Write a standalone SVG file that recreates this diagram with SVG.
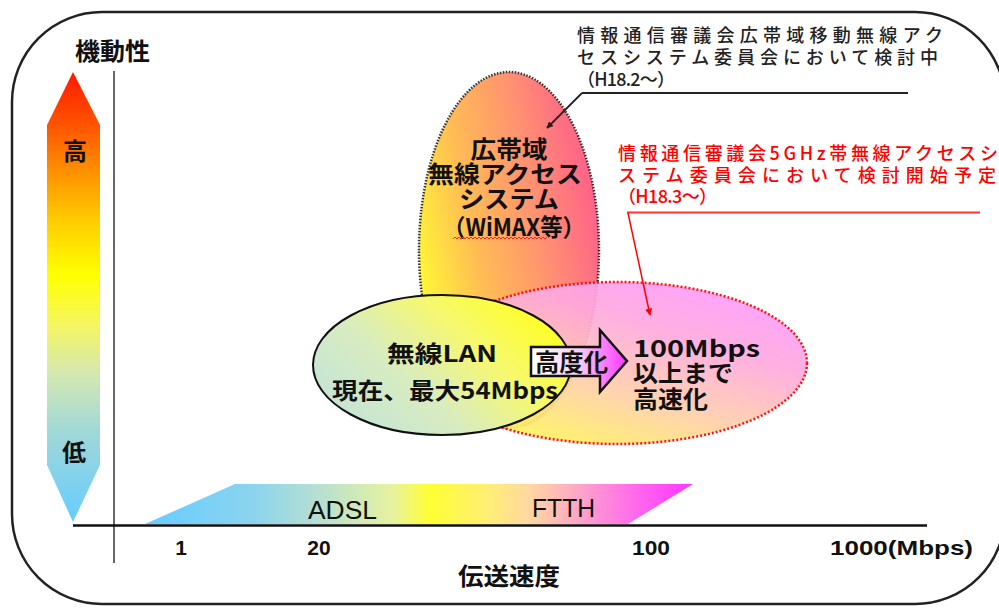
<svg xmlns="http://www.w3.org/2000/svg" width="999" height="608" viewBox="0 0 999 608">
<style>
.jp{font-family:"Noto Sans CJK JP","Noto Sans",sans-serif;font-weight:bold;fill:#111}
.lat{font-family:"Liberation Sans","Noto Sans CJK JP",sans-serif;fill:#111}
.ann{font-family:"Noto Sans CJK JP",sans-serif;font-size:18px;font-weight:500}
</style>
<defs>
<linearGradient id="gMob" x1="0" y1="72" x2="0" y2="522" gradientUnits="userSpaceOnUse">
<stop offset="0" stop-color="#ff1a00"/>
<stop offset="0.12" stop-color="#ff5500"/>
<stop offset="0.22" stop-color="#ff9000"/>
<stop offset="0.33" stop-color="#ffcc00"/>
<stop offset="0.45" stop-color="#ffff00"/>
<stop offset="0.56" stop-color="#f6f660"/>
<stop offset="0.67" stop-color="#d4e8b0"/>
<stop offset="0.8" stop-color="#a0d8d8"/>
<stop offset="1" stop-color="#66ccff"/>
</linearGradient>
<linearGradient id="gBar" x1="145" y1="0" x2="693" y2="0" gradientUnits="userSpaceOnUse">
<stop offset="0" stop-color="#66ccff"/>
<stop offset="0.2" stop-color="#8cd4ee"/>
<stop offset="0.32" stop-color="#b8e0d0"/>
<stop offset="0.45" stop-color="#e6f2a0"/>
<stop offset="0.52" stop-color="#ffff33"/>
<stop offset="0.63" stop-color="#ffee77"/>
<stop offset="0.7" stop-color="#ffd8a0"/>
<stop offset="0.8" stop-color="#ffa0cc"/>
<stop offset="0.9" stop-color="#ff66ee"/>
<stop offset="1" stop-color="#ff33ff"/>
</linearGradient>
<linearGradient id="gWimax" x1="0" y1="0.7" x2="1" y2="0.3">
<stop offset="0" stop-color="#ffff33"/>
<stop offset="0.35" stop-color="#ffbb55"/>
<stop offset="0.65" stop-color="#ff9470"/>
<stop offset="1" stop-color="#ff5c8c"/>
</linearGradient>
<linearGradient id="g5g" x1="0.1" y1="1" x2="0.8" y2="0">
<stop offset="0" stop-color="#ffff44"/>
<stop offset="0.4" stop-color="#ffd0a8"/>
<stop offset="0.7" stop-color="#ffaadd"/>
<stop offset="1" stop-color="#ff99ff"/>
</linearGradient>
<linearGradient id="gLan" x1="0" y1="0.9" x2="1" y2="0.3">
<stop offset="0" stop-color="#bfe2dc"/>
<stop offset="0.4" stop-color="#d8ecc0"/>
<stop offset="0.7" stop-color="#f6f870"/>
<stop offset="1" stop-color="#ffff22"/>
</linearGradient>
<linearGradient id="gArr" x1="0" y1="0" x2="1" y2="0">
<stop offset="0" stop-color="#ffffff"/>
<stop offset="0.5" stop-color="#f6d0f6"/>
<stop offset="1" stop-color="#ff33ff"/>
</linearGradient>
<marker id="mBlack" viewBox="0 0 10 10" refX="9" refY="5" markerWidth="7" markerHeight="7" orient="auto" markerUnits="userSpaceOnUse">
<path d="M0,0 L10,5 L0,10 z" fill="#222"/>
</marker>
<marker id="mRed" viewBox="0 0 10 10" refX="9" refY="5" markerWidth="7" markerHeight="7" orient="auto" markerUnits="userSpaceOnUse">
<path d="M0,0 L10,5 L0,10 z" fill="#ff0000"/>
</marker>
</defs>

<rect x="0" y="0" width="999" height="608" fill="#ffffff"/>
<rect id="frame" x="12" y="12" width="993" height="592" rx="90" ry="90" fill="#ffffff" stroke="#222" stroke-width="2.5"/>

<g id="mobility-axis">
<polygon points="73,72 100,125 100,465 73,522 47,465 47,125" fill="url(#gMob)"/>
<text class="jp" x="75" y="160" font-size="24" text-anchor="middle">高</text>
<text class="jp" x="74" y="461" font-size="24" text-anchor="middle">低</text>
<text class="jp" x="75" y="60" font-size="24" textLength="75" lengthAdjust="spacingAndGlyphs">機動性</text>
<line x1="114" y1="71" x2="114" y2="563" stroke="#333" stroke-width="1.5"/>
</g>

<g id="speed-axis">
<polygon points="145,524 235,484 693,484 628,524" fill="url(#gBar)"/>
<line x1="73" y1="525.5" x2="927" y2="525.5" stroke="#111" stroke-width="2.5"/>
<text class="lat" x="308" y="519" font-size="26" textLength="69" lengthAdjust="spacingAndGlyphs">ADSL</text>
<text class="lat" x="532" y="517" font-size="26" textLength="63" lengthAdjust="spacingAndGlyphs">FTTH</text>
<text class="lat" x="181" y="555" font-size="21" font-weight="bold" text-anchor="middle">1</text>
<text class="lat" x="319" y="555" font-size="21" font-weight="bold" text-anchor="middle">20</text>
<text class="lat" x="632" y="555" font-size="21" font-weight="bold" textLength="38" lengthAdjust="spacingAndGlyphs">100</text>
<text class="lat" x="830" y="555" font-size="21" font-weight="bold" textLength="143" lengthAdjust="spacingAndGlyphs">1000(Mbps)</text>
<text class="jp" x="458" y="585" font-size="24" textLength="102" lengthAdjust="spacingAndGlyphs">伝送速度</text>
</g>

<g id="wimax">
<ellipse cx="509" cy="250" rx="90" ry="178" fill="url(#gWimax)" stroke="#333" stroke-width="2.5" stroke-dasharray="1.5 1.5"/>
</g>

<g id="ghz5">
<ellipse cx="617" cy="363" rx="190" ry="81" fill="url(#g5g)" fill-opacity="0.92" stroke="#ff1111" stroke-width="2.5" stroke-dasharray="2 2"/>
</g>

<g id="wimax-label">
<text class="jp" x="509" y="158" font-size="24" text-anchor="middle" textLength="77" lengthAdjust="spacingAndGlyphs">広帯域</text>
<text class="jp" x="505" y="183" font-size="24" text-anchor="middle" textLength="154" lengthAdjust="spacingAndGlyphs">無線アクセス</text>
<text class="jp" x="509" y="208" font-size="24" text-anchor="middle" textLength="100" lengthAdjust="spacingAndGlyphs">システム</text>
<text class="jp" x="443" y="236" font-size="24" textLength="142" lengthAdjust="spacingAndGlyphs">（WiMAX等）</text>
<path d="M453,239 l2,-2 l2,2 l2,-2 l2,2 l2,-2 l2,2 l2,-2 l2,2 l2,-2 l2,2 l2,-2 l2,2 l2,-2 l2,2 l2,-2 l2,2 l2,-2 l2,2 l2,-2 l2,2 l2,-2 l2,2 l2,-2 l2,2 l2,-2 l2,2 l2,-2 l2,2 l2,-2 l2,2 l2,-2 l2,2 l2,-2 l2,2 l2,-2 l2,2 l2,-2 l2,2 l2,-2 l2,2 l2,-2 l2,2 l2,-2 l2,2 l2,-2 l2,2 l2,-2" fill="none" stroke="#ff2222" stroke-width="1"/>
</g>

<g id="lan">
<ellipse cx="442" cy="365" rx="129" ry="70" fill="url(#gLan)" stroke="#111" stroke-width="2"/>
<text class="jp" x="442" y="362" font-size="23" text-anchor="middle" textLength="110" lengthAdjust="spacingAndGlyphs">無線LAN</text>
<text class="jp" x="332" y="399" font-size="23" textLength="226" lengthAdjust="spacingAndGlyphs">現在、最大54Mbps</text>
</g>

<g id="upgrade-arrow">
<polygon points="531,347 600,347 600,330 627,361 600,392 600,376 531,376" fill="url(#gArr)" stroke="#111" stroke-width="2.5" stroke-linejoin="miter"/>
<text class="jp" x="535" y="371" font-size="24" textLength="73" lengthAdjust="spacingAndGlyphs">高度化</text>
</g>

<g id="target-label">
<text class="jp" x="633" y="357" font-size="23" textLength="127" lengthAdjust="spacingAndGlyphs">100Mbps</text>
<text class="jp" x="633" y="382" font-size="24" textLength="100" lengthAdjust="spacingAndGlyphs">以上まで</text>
<text class="jp" x="633" y="408" font-size="24" textLength="75" lengthAdjust="spacingAndGlyphs">高速化</text>
</g>

<g id="note-broadband">
<text class="ann" fill="#222" x="577" y="42" textLength="366" lengthAdjust="spacing">情報通信審議会広帯域移動無線アク</text>
<text class="ann" fill="#222" x="577" y="64" textLength="361" lengthAdjust="spacing">セスシステム委員会において検討中</text>
<text class="ann" fill="#222" x="577" y="86" textLength="98" lengthAdjust="spacing">（H18.2〜）</text>
</g>

<g id="note-5ghz">
<text class="ann" fill="#ff0000" x="618" y="160" textLength="380" lengthAdjust="spacing">情報通信審議会5GHz帯無線アクセスシ</text>
<text class="ann" fill="#ff0000" x="618" y="182" textLength="378" lengthAdjust="spacing">ステム委員会において検討開始予定</text>
<text class="ann" fill="#ff0000" x="618" y="203" textLength="99" lengthAdjust="spacing">（H18.3〜）</text>
</g>

<g id="connectors">
<line x1="582" y1="93" x2="908" y2="93" stroke="#222" stroke-width="2"/>
<line x1="582" y1="93" x2="547" y2="128" stroke="#222" stroke-width="1.8" marker-end="url(#mBlack)"/>
<line x1="627" y1="212.5" x2="980" y2="212.5" stroke="#ff3333" stroke-width="2"/>
<line x1="628" y1="213" x2="650" y2="315" stroke="#ff0000" stroke-width="1.5" marker-end="url(#mRed)"/>
</g>
</svg>
